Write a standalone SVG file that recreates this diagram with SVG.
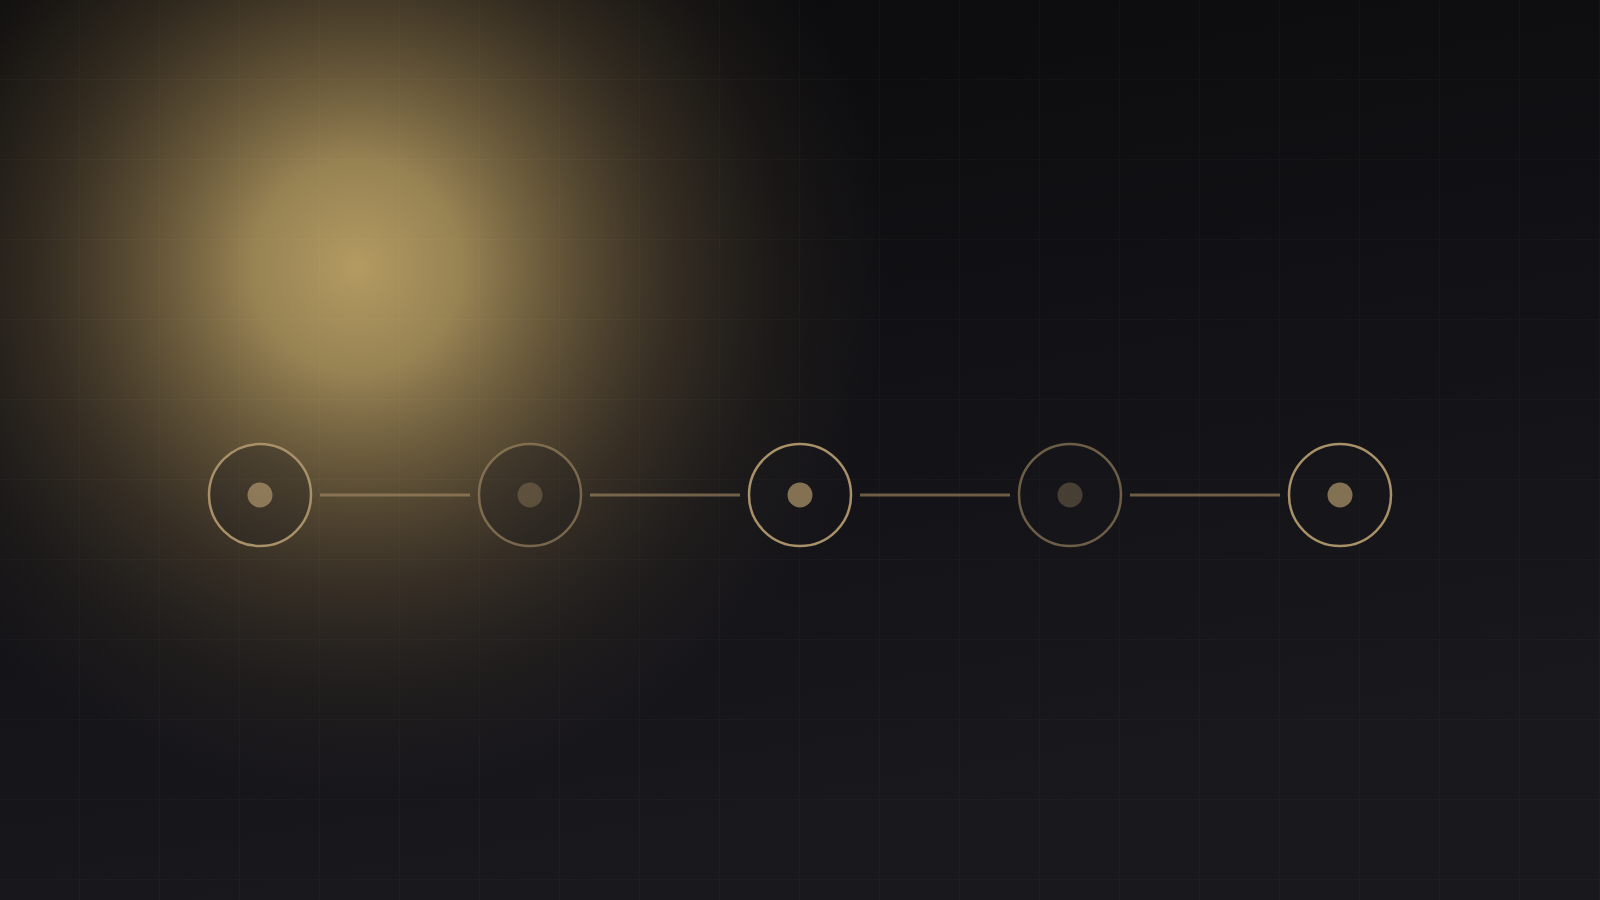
<svg xmlns="http://www.w3.org/2000/svg" width="1600" height="900" viewBox="0 0 1600 900">
  <defs>
    <linearGradient id="bg" x1="0" y1="0" x2="0.3" y2="1">
      <stop offset="0" stop-color="#0a0a0c"/>
      <stop offset="1" stop-color="#19181d"/>
    </linearGradient>
    <radialGradient id="glow" cx="357" cy="267" r="530" gradientUnits="userSpaceOnUse">
      <stop offset="0" stop-color="#b39b61" stop-opacity="1"/>
      <stop offset="0.2" stop-color="#aa925c" stop-opacity="0.88"/>
      <stop offset="0.4" stop-color="#957d4e" stop-opacity="0.6"/>
      <stop offset="0.6" stop-color="#7e6842" stop-opacity="0.33"/>
      <stop offset="0.8" stop-color="#6a5838" stop-opacity="0.12"/>
      <stop offset="1" stop-color="#5a4a30" stop-opacity="0"/>
    </radialGradient>
    <pattern id="grid" width="80" height="80" patternUnits="userSpaceOnUse">
      <path d="M80 0 V80 M0 80 H80" fill="none" stroke="#ffffff" stroke-opacity="0.025" stroke-width="1.5"/>
    </pattern>
  </defs>
  <style>
    .ring { fill: #1b1a1f; fill-opacity: 0.3; stroke: #a89068; stroke-width: 2.5; }
    .ring.dim { stroke-opacity: 0.6; }
    .dot { fill: #a89068; fill-opacity: 0.75; }
    .dot.dim { fill-opacity: 0.35; }
    .link { stroke: #a89068; stroke-opacity: 0.6; stroke-width: 3; }
  </style>
  <rect width="1600" height="900" fill="url(#bg)"/>
  <rect width="1600" height="900" fill="url(#glow)"/>
  <rect width="1600" height="900" fill="url(#grid)"/>
  <g id="connectors">
    <line class="link" x1="320" y1="495" x2="470" y2="495"/>
    <line class="link" x1="590" y1="495" x2="740" y2="495"/>
    <line class="link" x1="860" y1="495" x2="1010" y2="495"/>
    <line class="link" x1="1130" y1="495" x2="1280" y2="495"/>
  </g>
  <g id="node1">
    <circle class="ring" cx="260" cy="495" r="51"/>
    <circle class="dot" cx="260" cy="495" r="12.5"/>
  </g>
  <g id="node2">
    <circle class="ring dim" cx="530" cy="495" r="51"/>
    <circle class="dot dim" cx="530" cy="495" r="12.5"/>
  </g>
  <g id="node3">
    <circle class="ring" cx="800" cy="495" r="51"/>
    <circle class="dot" cx="800" cy="495" r="12.5"/>
  </g>
  <g id="node4">
    <circle class="ring dim" cx="1070" cy="495" r="51"/>
    <circle class="dot dim" cx="1070" cy="495" r="12.5"/>
  </g>
  <g id="node5">
    <circle class="ring" cx="1340" cy="495" r="51"/>
    <circle class="dot" cx="1340" cy="495" r="12.5"/>
  </g>
</svg>
